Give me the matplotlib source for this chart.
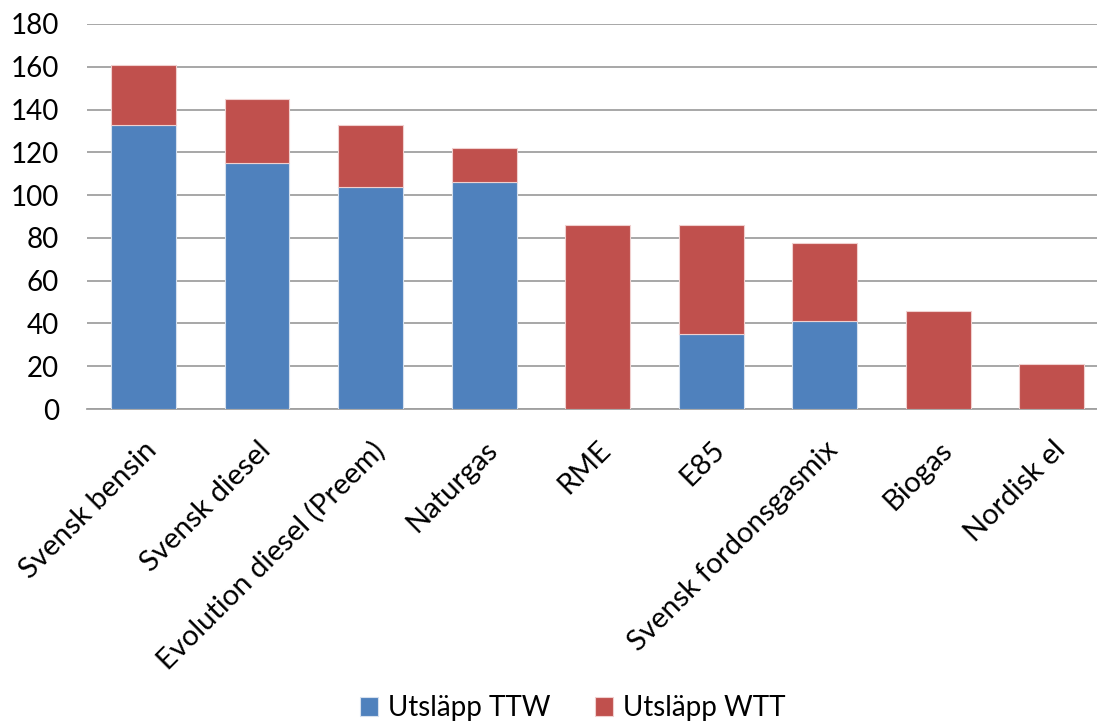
import matplotlib
matplotlib.use("Agg")
import matplotlib.pyplot as plt
import numpy as np

plt.rcParams['font.family'] = ['Lato', 'DejaVu Sans']

categories = ["Svensk bensin", "Svensk diesel", "Evolution diesel (Preem)", "Naturgas",
              "RME", "E85", "Svensk fordonsgasmix", "Biogas", "Nordisk el"]
ttw = [133, 115, 104, 106, 0, 35, 41, 0, 0]
wtt = [28, 30, 29, 16, 86, 51, 36.5, 46, 21]
series_names = ["Utsläpp TTW", "Utsläpp WTT"]
yticks = [0, 20, 40, 60, 80, 100, 120, 140, 160, 180]

blue = "#4F81BD"
red = "#C0504D"
grid_col = "#A0A0A0"

fig = plt.figure(figsize=(10.97, 7.22), dpi=100)
ax = fig.add_axes([0.0790, 0.4335, 0.9317, 0.5333])

x = np.arange(len(categories))
w = 0.572
ax.bar(x, ttw, width=w, color=blue, edgecolor="#D6E0EE", linewidth=0.8,
       label=series_names[0], zorder=3)
ax.bar(x, wtt, width=w, bottom=ttw, color=red, edgecolor="#F0D0CF", linewidth=0.8,
       label=series_names[1], zorder=3)

ax.set_xlim(-0.5, len(categories) - 0.5)
ax.set_ylim(0, 180)
ax.set_yticks(yticks)
ax.set_yticklabels([str(v) for v in yticks], fontsize=20)
ax.yaxis.grid(True, color=grid_col, linewidth=1.3, zorder=0)
ax.set_axisbelow(True)

ax.set_xticks(x)
ax.set_xticklabels(categories, rotation=45, ha="right", rotation_mode="anchor", fontsize=21)
ax.tick_params(axis='x', length=0, pad=20)
ax.tick_params(axis='y', length=0, pad=20)

for s in ["top", "right", "left"]:
    ax.spines[s].set_visible(False)
ax.spines["bottom"].set_color(grid_col)
ax.spines["bottom"].set_linewidth(1.3)

handles, labels = ax.get_legend_handles_labels()
fig.legend(handles, labels, loc="center", bbox_to_anchor=(0.522, 0.019), ncol=2,
           frameon=False, fontsize=20, handlelength=0.65, handleheight=0.65,
           handletextpad=0.35, columnspacing=1.6)

fig.savefig("out.png", dpi=100, facecolor="white")
